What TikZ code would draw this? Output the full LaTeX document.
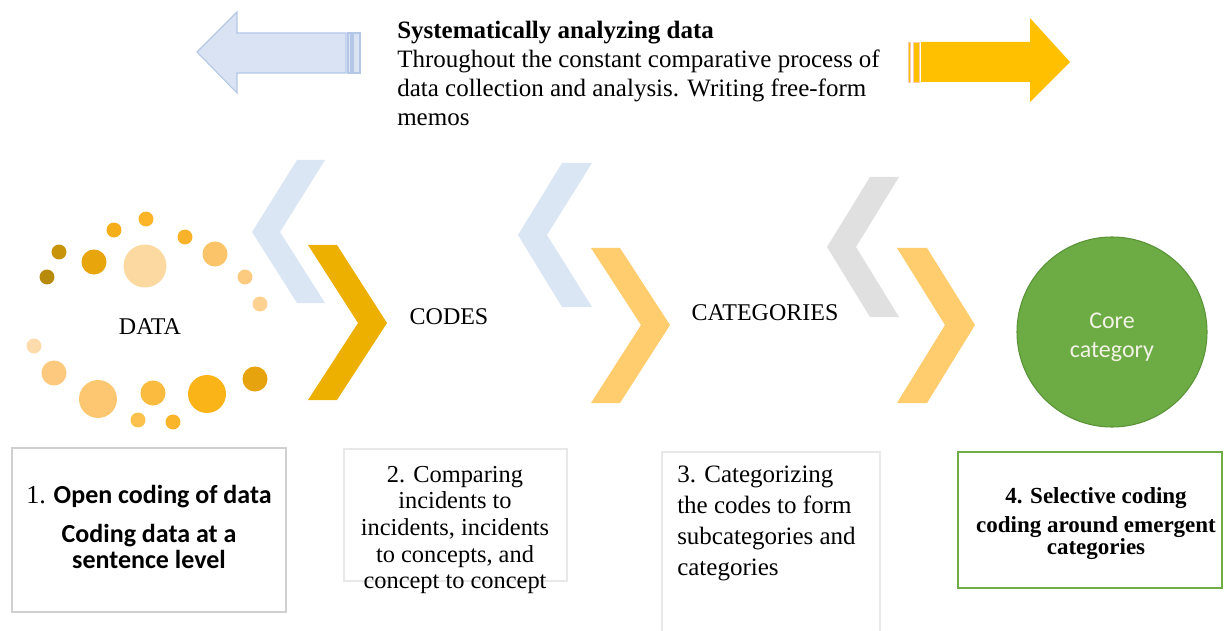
\documentclass[tikz,border=0pt]{standalone}
\usepackage{fontspec}
\setmainfont{Liberation Serif}
\newfontfamily\calibri{Carlito}
\definecolor{arrblue}{HTML}{DAE3F3}
\definecolor{arrblueline}{HTML}{B4C7E7}
\definecolor{arrorange}{HTML}{FFC000}
\definecolor{arrorangeline}{HTML}{F8CBAD}
\definecolor{chevblue}{HTML}{DAE6F4}
\definecolor{chevgold}{HTML}{EDB000}
\definecolor{chevorange}{HTML}{FFCD6E}
\definecolor{chevgray}{HTML}{E0E0E0}
\definecolor{coregreen}{HTML}{6DAB45}
\definecolor{coreline}{HTML}{5B9438}
\definecolor{boxgreen}{HTML}{70AD47}
\definecolor{boxgray}{HTML}{D0D0D0}
\definecolor{boxlight}{HTML}{E8E8E8}
\definecolor{coretext}{HTML}{F2F2E6}
\tikzset{
  striparrow/.style={line width=0.8pt},
  chevron/.style={draw=none},
  stagelabel/.style={inner sep=0pt, font=\fontsize{18}{21}\selectfont},
  dot/.style={draw=none},
}
\begin{document}
\begin{tikzpicture}[x=0.75pt,y=-0.75pt]
\useasboundingbox (0,0) rectangle (1225,631);
\fill[white] (0,0) rectangle (1225,631);

% top left striped arrow (blue)
\draw[striparrow, fill=arrblue, draw=arrblueline] (197,52) -- (237,12) -- (237,33) -- (346,33) -- (346,73) -- (237,73) -- (237,93) -- cycle;
\draw[striparrow, fill=arrblue, draw=arrblueline] (348,33) rectangle (351,73);
\draw[striparrow, fill=arrblue, draw=arrblueline] (353,33) rectangle (360,73);

% top right striped arrow (orange)
\fill[arrorange] (921,42) -- (1030,42) -- (1030,18) -- (1070,62) -- (1030,102) -- (1030,82) -- (921,82) -- cycle;
\fill[arrorange] (908,42) rectangle (910.5,82);
\fill[arrorange] (913,42) rectangle (919,82);
\draw[arrorangeline, line width=0.6pt] (908,42) rectangle (910.5,82);
\draw[arrorangeline, line width=0.6pt] (913,42) rectangle (919,82);

% title text
\node[anchor=north west, inner sep=0pt, align=left, font=\fontsize{18.75}{21.75}\selectfont] (title) at (397,21)
  {\textbf{Systematically analyzing data}\\
   Throughout the constant comparative process of\\
   data collection and analysis. Writing free-form\\
   memos};

% chevrons
\fill[chevblue]   (297,160) -- (325,160) -- (280,232) -- (325,303) -- (297,303) -- (252,232) -- cycle;
\fill[chevgold]   (308,245) -- (337,245) -- (387,323) -- (337,400) -- (308,400) -- (358,323) -- cycle;
\fill[chevblue]   (562,163) -- (592,163) -- (547,235) -- (592,307) -- (562,307) -- (518,235) -- cycle;
\fill[chevorange] (591,248) -- (620,248) -- (670,325) -- (620,403) -- (591,403) -- (641,325) -- cycle;
\fill[chevgray]   (870,177) -- (899,177) -- (856,247) -- (899,317) -- (870,317) -- (827,247) -- cycle;
\fill[chevorange] (897,248) -- (927,248) -- (975,325) -- (927,403) -- (897,403) -- (945,325) -- cycle;

% data dots
\fill[color={rgb,255:red,251;green,181;blue,39}]  (146,219) circle[radius=5.6pt];
\fill[color={rgb,255:red,246;green,174;blue,24}]  (114,230) circle[radius=5.6pt];
\fill[color={rgb,255:red,249;green,179;blue,42}]  (185,237) circle[radius=5.6pt];
\fill[color={rgb,255:red,200;green,149;blue,10}]  (59,252)  circle[radius=5.6pt];
\fill[color={rgb,255:red,233;green,165;blue,12}]  (94,262)  circle[radius=9.4pt];
\fill[color={rgb,255:red,253;green,217;blue,162}] (145,266) circle[radius=16.1pt];
\fill[color={rgb,255:red,252;green,196;blue,104}] (215,254) circle[radius=9.4pt];
\fill[color={rgb,255:red,184;green,138;blue,12}]  (47,277)  circle[radius=5.6pt];
\fill[color={rgb,255:red,253;green,203;blue,128}] (245,277) circle[radius=5.6pt];
\fill[color={rgb,255:red,253;green,209;blue,143}] (260,304) circle[radius=5.6pt];
\fill[color={rgb,255:red,253;green,219;blue,170}] (34,346)  circle[radius=5.6pt];
\fill[color={rgb,255:red,252;green,201;blue,126}] (54,373)  circle[radius=9.4pt];
\fill[color={rgb,255:red,252;green,199;blue,112}] (98,399)  circle[radius=14.25pt];
\fill[color={rgb,255:red,251;green,187;blue,62}]  (153,393) circle[radius=9.4pt];
\fill[color={rgb,255:red,251;green,180;blue,24}]  (207,394) circle[radius=14.25pt];
\fill[color={rgb,255:red,230;green,163;blue,14}]  (255,379) circle[radius=9.4pt];
\fill[color={rgb,255:red,252;green,192;blue,76}]  (138,420) circle[radius=5.6pt];
\fill[color={rgb,255:red,250;green,181;blue,42}]  (173,422) circle[radius=5.6pt];

% stage labels
\node[stagelabel] (data) at (150,327) {DATA};
\node[stagelabel] (codes) at (449,317) {CODES};
\node[stagelabel] (categories) at (765,313) {CATEGORIES};

% core category circle
\node[circle, minimum size=142.5pt, inner sep=0pt, fill=coregreen, draw=coreline, line width=0.8pt] (core) at (1112,332) {};
\node[inner sep=0pt, align=center, text=coretext, font=\calibri\fontsize{18}{22}\selectfont] (coretxt) at (1112,337) {Core\\category};

% step boxes
\draw[boxgray, line width=1.2pt] (12,448) rectangle (286,612);
\node[anchor=north, inner sep=0pt, align=center, font=\calibri\bfseries\fontsize{19.5}{19.5}\selectfont] (step1) at (149,485)
  {{\rmfamily\mdseries 1.} Open coding of data\\[9.5pt] Coding data at a\\ sentence level};

\draw[boxlight, line width=1pt] (344,449) rectangle (567,581);
\node[anchor=north, inner sep=0pt, align=center, font=\fontsize{18.3}{19.9}\selectfont] (step2) at (455,466)
  {2. Comparing\\ incidents to\\ incidents, incidents\\ to concepts, and\\ concept to concept};

\draw[boxlight, line width=1pt] (662,631) -- (662,452) -- (880,452) -- (880,631);
\node[anchor=north west, inner sep=0pt, align=left, font=\fontsize{18.75}{23.25}\selectfont] (step3) at (677,466)
  {3. Categorizing\\ the codes to form\\ subcategories and\\ categories};

\draw[boxgreen, line width=1.5pt] (958,452) rectangle (1222,588);
\node[anchor=north, inner sep=0pt, align=center, font=\bfseries\fontsize{17.25}{16.5}\selectfont] (step4) at (1096,487)
  {4. Selective coding\\[5.5pt] coding around emergent\\ categories};
\end{tikzpicture}
\end{document}
